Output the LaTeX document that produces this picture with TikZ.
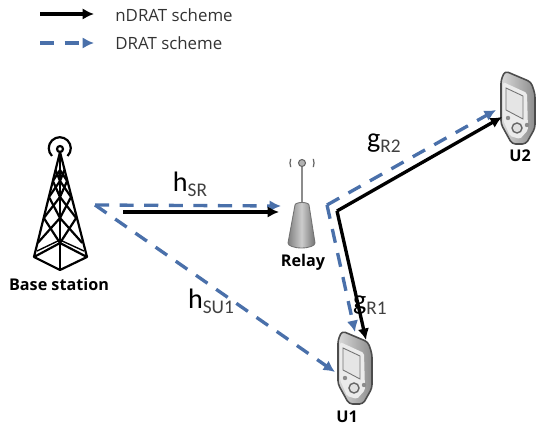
\documentclass[tikz,border=0pt]{standalone}
\usepackage{fontspec}
\setmainfont{Open Sans}
\newfontfamily\chfont{Carlito}
\usetikzlibrary{arrows.meta,calc,positioning}
\definecolor{dratblue}{RGB}{74,112,170}
\tikzset{
    ndrat/.style = {draw, black, line width=1.9pt, ->},
    drat/.style = {draw, dratblue, line width=1.9pt, dash pattern=on 8pt off 6pt, ->},
    legendtext/.style = {font=\fontsize{9.6}{11}\selectfont, text=black!80, anchor=west, inner sep=0pt},
    iconlabel/.style = {font=\fontsize{9.2}{10}\selectfont\bfseries, inner sep=0pt},
    chlabel/.style = {font=\chfont\fontsize{16}{18}\selectfont, inner sep=0pt},
    towerline/.style = {draw, black, line width=1.25pt, line join=round}
}
\newcommand{\chname}[2]{#1\raisebox{-2.8pt}{\fontsize{11}{12}\selectfont\color{black!75} #2}}
% phone icon, centred on the given pixel
\newcommand{\phoneicon}[2]{
    \begin{scope}[shift={(#1,#2)}]
        \draw[black!70, line width=.9pt, rounded corners=2pt, left color=black!15, right color=black!45]
            (-17,-28) -- (-13,-37) -- (13,-26) -- (17,-14) -- (17,20) -- (8,36) -- (-6,36) -- (-17,16) -- cycle;
        \fill[white!92!black, rounded corners=1pt] (-15,-26) -- (9,-15) -- (10,22) -- (2,31) -- (-8,28) -- (-15,12) -- cycle;
        \draw[black!55, line width=.5pt, fill=black!10] (-12,-20) -- (5,-12) -- (5,11) -- (-12,2) -- cycle;
        \draw[black!60, line width=.8pt, fill=black!12] (-1,20) circle (5);
        \fill[black!45] (-10,10) circle (2.2) (9,17) circle (2.2);
    \end{scope}
}
\begin{document}
\begin{tikzpicture}[x=0.02cm,y=-0.02cm,>={Latex[length=6.5pt,width=6.5pt]}]
    \useasboundingbox (0,0) rectangle (536,431);
    % legend
    \coordinate (leg1a) at (40,14);
    \coordinate (leg1b) at (94,14);
    \coordinate (leg2a) at (40,43);
    \coordinate (leg2b) at (94,43);
    \draw[ndrat] (leg1a) -- (leg1b);
    \draw[drat] (leg2a) -- (leg2b);
    \node [legendtext] (legn) at (115,15) {nDRAT scheme};
    \node [legendtext] (legd) at (115,43) {DRAT scheme};
    % base station
    \draw[towerline] (60,149) circle (3);
    \draw[towerline] (52,156) arc (135:405:11);
    \draw[towerline] (60,152) -- (34,257) -- (60,270) -- (87,257) -- cycle;
    \draw[towerline] (60,152) -- (60,270);
    \draw[towerline] (34,257) -- (60,243) -- (87,257);
    \draw[towerline, line width=.8pt] (37,251) -- (60,240) -- (84,251);
    \foreach \ya/\yb in {170/181,181/197,197/218,218/243} {
        \draw[towerline] ({60-(\ya-152)*.245},\ya) -- (60,\yb) -- ({60+(\ya-152)*.245},\ya);
        \draw[towerline] ({60-(\yb-152)*.245},\yb) -- (60,\ya) -- ({60+(\yb-152)*.245},\yb);
    }
    \node [iconlabel] (bs) at (59,284) {Base station};
    % relay
    \draw[black!45, line width=1.5pt] (302,166) -- (302,205);
    \draw[black!60, line width=.6pt, fill=black!30] (302,163) circle (3.5);
    \draw[black!60, line width=.7pt] (290.7,158.9) arc (200:160:12) (313.3,158.9) arc (-20:20:12);
    \draw[black!55, line width=.5pt, left color=black!50, right color=black!55, middle color=black!20]
        (295,205) -- (288,243) arc (180:0:13.5 and 5) -- (309,205) arc (0:-180:7 and 2.5) -- cycle;
    \node [iconlabel] (relay) at (303,262) {Relay};
    % users
    \phoneicon{355}{368}
    \phoneicon{518}{108}
    \node [iconlabel] (u1) at (347,417) {U1};
    \node [iconlabel] (u2) at (520,156) {U2};
    % links
    \coordinate (bsout) at (95,205);
    \coordinate (bsblk) at (123,212);
    \coordinate (relayin) at (281,206);
    \coordinate (relayblk) at (279,212);
    \coordinate (relaydrat) at (327,205);
    \coordinate (relayndrat) at (337,211);
    \coordinate (u1drat) at (355,332);
    \coordinate (u1side) at (335,372);
    \coordinate (u1ndrat) at (366,340);
    \coordinate (u2drat) at (496,110);
    \coordinate (u2ndrat) at (502,117);
    \draw[drat] (bsout) -- (relayin);
    \draw[ndrat] (bsblk) -- (relayblk);
    \draw[drat] (bsout) -- (u1side);
    \draw[drat] (relaydrat) -- (u1drat);
    \draw[drat] (relaydrat) -- (u2drat);
    \draw[ndrat] (relayndrat) -- (u1ndrat);
    \draw[ndrat] (relayndrat) -- (u2ndrat);
    % channel labels
    \node [chlabel] (hsr) at (190,184) {\chname{h}{SR}};
    \node [chlabel] (hsu) at (211,301) {\chname{h}{SU1}};
    \node [chlabel] (gr2) at (384,143) {\chname{g}{R2}};
    \node [chlabel] (gr1) at (370,305) {\chname{g}{R1}};
\end{tikzpicture}
\end{document}
